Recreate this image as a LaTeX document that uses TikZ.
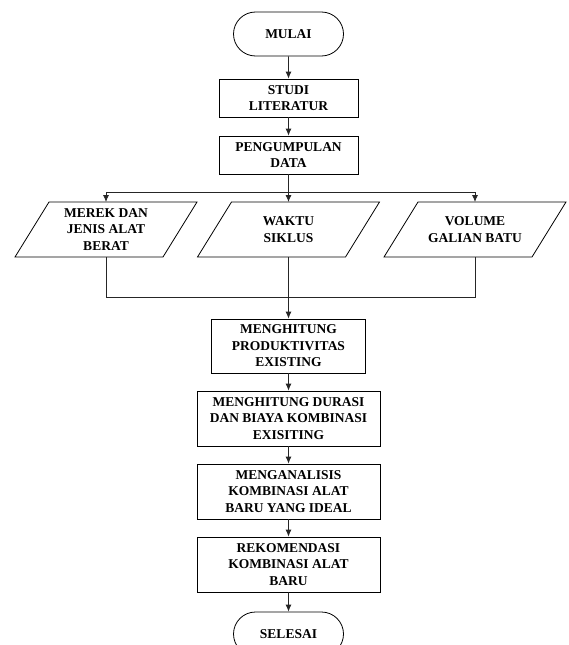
\documentclass[tikz,border=0pt]{standalone}
\usepackage{fontspec}
\setmainfont{Liberation Serif}
\usetikzlibrary{shapes.misc,arrows.meta,calc}
\tikzset{
  txt/.style={align=center,font=\fontsize{13.5}{16.5}\selectfont\bfseries,inner sep=0pt},
  term/.style={txt,draw,rounded rectangle,line width=0.8pt,minimum width=110pt,minimum height=44pt},
  proc/.style={txt,draw,rectangle,line width=0.8pt},
  line/.style={draw=black!85,line width=0.8pt},
  arr/.style={line,-{Latex[length=7pt,width=6pt]}},
  parabox/.style={draw,line width=0.8pt}
}
\begin{document}
\begin{tikzpicture}[x=1pt,y=-1pt]
\useasboundingbox (0,0) rectangle (569,645);
\clip (0,0) rectangle (569,645);
\fill[white] (0,0) rectangle (569,645);

\node[term] (mulai) at (288.5,34) {MULAI};
\node[proc,minimum width=139pt,minimum height=38pt] (studi) at (288.5,98) {STUDI\\LITERATUR};
\node[proc,minimum width=139pt,minimum height=38pt] (data) at (288.5,155) {PENGUMPULAN\\DATA};

\node[txt] (merek) at (106,229.5) {MEREK DAN\\JENIS ALAT\\BERAT};
\node[txt] (waktu) at (288.5,229.5) {WAKTU\\SIKLUS};
\node[txt] (volume) at (475,229.5) {VOLUME\\GALIAN BATU};
\foreach \n in {merek,waktu,volume}{
  \draw[parabox] ($(\n)+(-91,27.5)$) -- ($(\n)+(57,27.5)$) -- ($(\n)+(91,-27.5)$) -- ($(\n)+(-57,-27.5)$) -- cycle;
  \coordinate (\n T) at ($(\n)+(0,-27.5)$);
  \coordinate (\n B) at ($(\n)+(0,27.5)$);
}

\node[proc,minimum width=154pt,minimum height=54pt] (hitung) at (288.5,346) {MENGHITUNG\\PRODUKTIVITAS\\EXISTING};
\node[proc,minimum width=183pt,minimum height=55pt] (durasi) at (288.5,418.5) {MENGHITUNG DURASI\\DAN BIAYA KOMBINASI\\EXISITING};
\node[proc,minimum width=183pt,minimum height=55pt] (analisis) at (288.5,491.5) {MENGANALISIS\\KOMBINASI ALAT\\BARU YANG IDEAL};
\node[proc,minimum width=183pt,minimum height=55pt] (rekom) at (288.5,564.5) {REKOMENDASI\\KOMBINASI ALAT\\BARU};
\node[term] (selesai) at (288.5,634) {SELESAI};

\coordinate (split) at (288.5,192);
\coordinate (join) at (288.5,297);

\draw[arr] (mulai) -- (studi);
\draw[arr] (studi) -- (data);
\draw[line] (data) -- (split);
\draw[arr] (split) -- (waktuT);
\draw[arr] (split) -| (merekT);
\draw[arr] (split) -| (volumeT);
\draw[line] (merekB) |- (join);
\draw[line] (volumeB) |- (join);
\draw[line] (waktuB) -- (join);
\draw[arr] (join) -- (hitung);
\draw[arr] (hitung) -- (durasi);
\draw[arr] (durasi) -- (analisis);
\draw[arr] (analisis) -- (rekom);
\draw[arr] (rekom) -- (selesai);
\end{tikzpicture}
\end{document}
